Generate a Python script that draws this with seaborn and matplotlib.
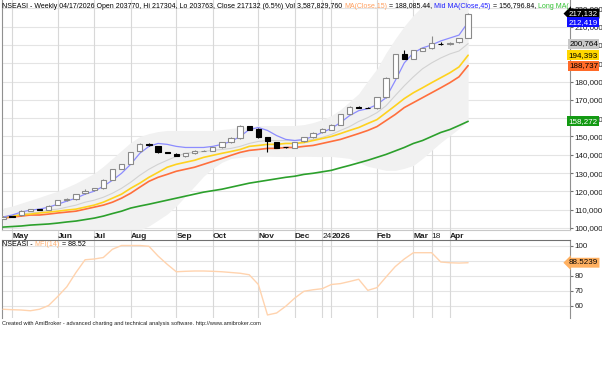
import matplotlib
matplotlib.use('Agg')
import matplotlib.pyplot as plt
from matplotlib.transforms import IdentityTransform, blended_transform_factory
import numpy as np
import pandas as pd
import seaborn as sns

# weekly bars, 2025-04-25 .. 2026-04-17
week = list(range(52))
opens = [104900, 106300, 106900, 109300, 110300, 109800, 112500, 115200, 115600, 118900,
         120600, 121600, 126500, 132200, 135200, 141800, 146000, 144800, 141500, 140600,
         139100, 140800, 142100, 142200, 144000, 146900, 149100, 155600, 154200, 149600,
         146900, 144100, 143900, 147300, 149600, 152300, 153800, 156500, 162300, 166300,
         165700, 165400, 171400, 182200, 194900, 192600, 196700, 198200, 200800, 200400,
         201500, 203770]
highs = [106300, 106600, 109600, 110600, 110500, 112300, 115400, 116500, 118700, 121200,
         121800, 126700, 132400, 135000, 141700, 146200, 146300, 145000, 141700, 140800,
         141100, 142400, 142600, 144200, 147100, 149500, 156200, 155800, 154400, 149800,
         147100, 144400, 147100, 149800, 152200, 154400, 156700, 162500, 166500, 166500,
         166000, 171600, 182400, 195100, 197100, 197300, 198400, 204900, 201600, 201500,
         203800, 217304]
lows = [104700, 105900, 106700, 109100, 109600, 109600, 112300, 115000, 115400, 118700,
        120400, 121400, 126300, 132000, 135000, 141600, 144900, 141200, 141000, 139100,
        138900, 140600, 141900, 142000, 143800, 146700, 148900, 153600, 149400, 141500,
        143700, 143800, 143700, 147100, 149400, 152100, 153600, 156300, 162100, 165400,
        165300, 165200, 171200, 182000, 192300, 192400, 196500, 198000, 199800, 200200,
        201300, 203763]
closes = [106100, 106100, 109400, 110300, 109800, 112100, 115200, 115900, 118500, 120300,
          121600, 126500, 132200, 134800, 141500, 146000, 145100, 141400, 141200, 139300,
          140900, 142200, 142300, 144000, 146900, 149300, 156000, 153800, 149600, 147400,
          143900, 144000, 146900, 149600, 152000, 154200, 156500, 162300, 166300, 165600,
          165500, 171400, 182200, 194900, 192500, 197100, 198200, 201100, 200700, 201300,
          203600, 217132]

fast_ma = [106000, 107100, 108700, 109800, 110300, 111400, 113000, 114700, 116300, 118500,
           120100, 122800, 126100, 129900, 134800, 140800, 144600, 146200, 145700, 144600,
           144000, 144000, 144000, 144600, 145700, 147300, 150000, 153800, 154900, 153300,
           150500, 148400, 147800, 148400, 150000, 152200, 154400, 157600, 161400, 164100,
           165200, 167400, 171200, 180400, 190200, 195700, 198400, 200000, 202200, 203800,
           205400, 212419]
mid_band = [106000, 106500, 107600, 108200, 108700, 109800, 110300, 111400, 112500, 114100,
            115200, 116800, 119000, 121700, 125000, 128800, 132100, 134800, 137000, 139100,
            140800, 141300, 141800, 142400, 142900, 143500, 144600, 146200, 147300, 147800,
            147800, 147800, 147800, 147800, 148400, 149500, 151100, 153300, 155400, 158200,
            160300, 163000, 166800, 172300, 177700, 182600, 187000, 190200, 192900, 195100,
            196700, 200764]
ma_yellow = [106000, 106500, 107100, 107600, 108200, 108700, 109200, 109800, 110300, 111400,
             112500, 114100, 116300, 118500, 121700, 124500, 127700, 130400, 133200, 134800,
             135900, 137000, 138600, 139700, 140800, 141800, 142900, 144600, 145100, 145700,
             145700, 146200, 146200, 146700, 147800, 148900, 150000, 151600, 153300, 154900,
             157100, 159200, 163000, 166800, 170700, 173900, 176600, 179400, 182100, 184800,
             188000, 194393]
ma_orange = [105400, 106000, 106500, 107100, 107100, 107600, 108200, 108700, 109200, 110300,
             111400, 112500, 114100, 116300, 119000, 122300, 125500, 127700, 129300, 131000,
             132100, 133200, 134800, 136400, 138000, 139700, 141300, 142400, 142900, 143500,
             143500, 144000, 144000, 144600, 145100, 146200, 147300, 148400, 150000, 151600,
             153300, 155400, 158700, 162000, 165800, 168500, 171200, 173900, 176600, 179400,
             182600, 188737]
ma_long = [100500, 100800, 101100, 101600, 101900, 102200, 102700, 103300, 103800, 104600,
           105400, 106500, 107900, 109200, 110900, 112000, 113000, 114100, 115200, 116300,
           117400, 118500, 119600, 120400, 121200, 122300, 123400, 124500, 125300, 126100,
           126900, 127700, 128300, 129300, 129900, 130700, 131500, 132900, 134200, 135600,
           137000, 138600, 140200, 142100, 144000, 146200, 147800, 150000, 152200, 153800,
           156000, 158272]
band_upper = [110900, 112000, 113600, 115200, 116800, 118500, 120100, 122300, 124500, 127200,
              129900, 133700, 138000, 142400, 146700, 150000, 151600, 152700, 153300, 153300,
              153300, 153300, 153300, 153300, 153800, 154400, 154900, 155400, 156000, 156000,
              156000, 156000, 156000, 156500, 157600, 159200, 161400, 164700, 169000, 173400,
              180400, 187000, 195700, 203300, 210300, 216300, 221200, 225500, 228300, 230400,
              232100, 233700]
band_lower = [101100, 100500, 100000, 99500, 98900, 98400, 97800, 97300, 96700, 96700,
              96200, 96200, 96200, 96700, 97300, 98900, 101100, 104300, 107600, 112000,
              117400, 122800, 128300, 132600, 135900, 138000, 138600, 139100, 139000, 139200,
              139100, 139000, 139100, 139200, 139100, 139000, 139100, 138600, 138000, 135900,
              133700, 132600, 131500, 131500, 132600, 134200, 138000, 142400, 146700, 150500,
              154300, 158700]
mfi = [57.5, 57.2, 57.0, 56.5, 57.5, 60.0, 66.0, 72.5, 82.0, 90.5,
       91.0, 92.0, 97.5, 100.0, 100.0, 100.0, 99.5, 93.0, 87.5, 82.5,
       82.8, 83.0, 83.0, 82.8, 82.5, 82.0, 81.5, 80.5, 74.0, 53.7,
       55.0, 59.5, 65.0, 69.5, 70.5, 71.2, 74.0, 74.6, 76.0, 77.5,
       70.1, 71.9, 79.0, 85.9, 91.0, 95.2, 95.2, 95.2, 89.0, 88.5,
       88.3, 88.52]

tick_weeks = [1, 6, 10, 14, 19, 23, 28, 32, 35, 36, 41, 45, 47, 49]
tick_labels = ['May', 'Jun', 'Jul', 'Aug', 'Sep', 'Oct', 'Nov', 'Dec', '24', '2026',
               'Feb', 'Mar', '18', 'Apr']
price_ticks = list(range(100000, 230000, 10000))
mfi_ticks = [60, 70, 80, 90, 100]

# the header is cut by the price axis in the original, only "Long MA(" shows
title_parts = [('NSEASI - Weekly 04/17/2026 Open 203770, Hi 217304, Lo 203763, Close 217132 (6.5%) Vol 3,587,829,760 ', 'black'),
               ('MA(Close,15)', '#FFA060'), (' = 188,085.44, ', 'black'),
               ('Mid MA(Close,45)', '#2020FF'), (' = 156,796.84, ', 'black'),
               ('Long MA(', '#30C030')]
mfi_parts = [('NSEASI - ', 'black'), ('MFI(14)', '#FFB070'), (' = 88.52', 'black')]

W, H = 602, 371
FONTS = ['Liberation Sans Narrow', 'Liberation Sans', 'DejaVu Sans']
LAB = 5.8


def run_text(fig, x, y, parts, size):
    # coloured pieces of text, laid out one after another (pixel coords from top-left)
    r = fig.canvas.get_renderer()
    px = x
    for s, c in parts:
        t = fig.text(px, H - y, s, color=c, fontsize=size, transform=IdentityTransform(),
                     va='center', ha='left', zorder=10)
        px += t.get_window_extent(r).width


def tag(ax, value, text, fc, tc, arrow=False):
    tr = blended_transform_factory(ax.transAxes, ax.transData)
    style = 'larrow,pad=0.18' if arrow else 'square,pad=0.18'
    ax.text((598 - 2) / 568, value, text, transform=tr, ha='right', va='center',
            fontsize=LAB, color=tc, clip_on=False, zorder=12,
            bbox=dict(boxstyle=style, fc=fc, ec='none'))


def main():
    sns.set_style('white')
    plt.rcParams['font.family'] = FONTS

    df = pd.DataFrame({'week': week, 'open': opens, 'high': highs, 'low': lows,
                       'close': closes, 'fast': fast_ma, 'mid': mid_band,
                       'yellow': ma_yellow, 'orange': ma_orange, 'long': ma_long,
                       'upper': band_upper, 'lower': band_lower, 'mfi': mfi})

    fig = plt.figure(figsize=(W / 100, H / 100), dpi=100)
    ax = fig.add_axes([2 / W, (H - 230) / H, 568 / W, 230 / H])
    ax2 = fig.add_axes([2 / W, (H - 318) / H, 568 / W, 78 / H])

    xlim = (-1 / 9.12, 567 / 9.12)
    grid_c = '#E4E4E4'

    # ---- price panel
    ax.set_xlim(*xlim)
    ax.set_ylim(98913, 224565)
    for v in price_ticks:
        ax.axhline(v, color=grid_c, lw=0.8, zorder=0)
    for w in tick_weeks:
        # grid runs down through the date strip too
        ax.axvline(w, ymin=-10 / 230, ymax=1, color='#D8D8D8', lw=0.8, zorder=0, clip_on=False)

    ax.fill_between(df['week'], df['lower'], df['upper'], color='#F1F1F1', lw=0, zorder=1)
    sns.lineplot(data=df, x='week', y='mid', ax=ax, color='#D2D2D2', lw=0.8, zorder=2)
    sns.lineplot(data=df, x='week', y='long', ax=ax, color='#2CA02C', lw=1.2, zorder=3)
    sns.lineplot(data=df, x='week', y='orange', ax=ax, color='#FF6F3C', lw=1.2, zorder=3)
    sns.lineplot(data=df, x='week', y='yellow', ax=ax, color='#FFD21E', lw=1.2, zorder=3)
    sns.lineplot(data=df, x='week', y='fast', ax=ax, color='#8C8CFF', lw=0.9, zorder=4)

    up = df['close'] >= df['open']
    body_lo = np.minimum(df['open'], df['close'])
    body_h = (df['close'] - df['open']).abs()
    ax.vlines(df['week'][up], df['low'][up], df['high'][up], color='#8A8A8A', lw=0.8, zorder=5)
    ax.vlines(df['week'][~up], df['low'][~up], df['high'][~up], color='black', lw=0.8, zorder=5)
    ax.bar(df['week'][up], body_h[up], bottom=body_lo[up], width=0.58, color='white',
           edgecolor='#8A8A8A', lw=0.8, zorder=6)
    ax.bar(df['week'][~up], body_h[~up], bottom=body_lo[~up], width=0.58, color='black',
           edgecolor='black', lw=0.8, zorder=6)

    ax.yaxis.tick_right()
    ax.set_yticks(price_ticks, [f'{v:,}' for v in price_ticks])
    ax.tick_params(axis='y', length=2.5, width=0.8, color='#707070', labelsize=LAB, pad=0.8,
                   labelcolor='#202020')
    ax.set_xticks(tick_weeks, tick_labels)
    ax.tick_params(axis='x', length=0, pad=2, labelsize=6.0, labelcolor='#202020')
    for lab in ax.get_xticklabels():
        lab.set_horizontalalignment('left')
        lab.set_fontweight('normal' if lab.get_text() in ('24', '18') else 'bold')
    ax.set_xlabel('')
    ax.set_ylabel('')
    ax.spines['top'].set_visible(False)
    ax.spines['bottom'].set_color('#C8C8C8')
    ax.spines['left'].set_color('#909090')
    ax.spines['right'].set_color('#909090')

    tag(ax, 217132, '217,132', 'black', 'white', arrow=True)
    tag(ax, 212419, '212,419', '#1010FF', 'white')
    tag(ax, 200764, '200,764', '#C8C8C8', 'black')
    tag(ax, 194393, '194,393', '#FFD700', 'black')
    tag(ax, 188737, '188,737', '#FF6A28', 'black')
    tag(ax, 158272, '158,272', '#139A13', 'white')

    # ---- MFI panel
    ax2.set_xlim(*xlim)
    ax2.set_ylim(51.67, 103.67)
    for v in mfi_ticks:
        ax2.axhline(v, color=grid_c, lw=0.8, zorder=0)
    for w in tick_weeks:
        ax2.axvline(w, color='#D8D8D8', lw=0.8, zorder=0)
    sns.lineplot(data=df, x='week', y='mfi', ax=ax2, color='#FFD3AE', lw=1.0, zorder=3)
    ax2.yaxis.tick_right()
    ax2.set_yticks(mfi_ticks, [str(v) for v in mfi_ticks])
    ax2.tick_params(axis='y', length=2.5, width=0.8, color='#707070', labelsize=LAB, pad=0.8,
                    labelcolor='#202020')
    ax2.set_xticks([])
    ax2.set_xlabel('')
    ax2.set_ylabel('')
    ax2.spines['bottom'].set_visible(False)
    ax2.spines['top'].set_color('#707070')
    ax2.spines['left'].set_color('#909090')
    ax2.spines['right'].set_color('#909090')
    tag(ax2, 88.5239, '88.5239', '#FFB060', 'black', arrow=True)

    run_text(fig, 2, 6, title_parts, 5.0)
    run_text(fig, 2, 244, mfi_parts, 5.1)
    fig.text(2 / W, 1 - 323 / H, 'Created with AmiBroker - advanced charting and technical analysis '
             'software. http://www.amibroker.com', fontsize=4.1, va='center', color='#202020')

    fig.savefig('out.png', dpi=100)


if __name__ == '__main__':
    main()
